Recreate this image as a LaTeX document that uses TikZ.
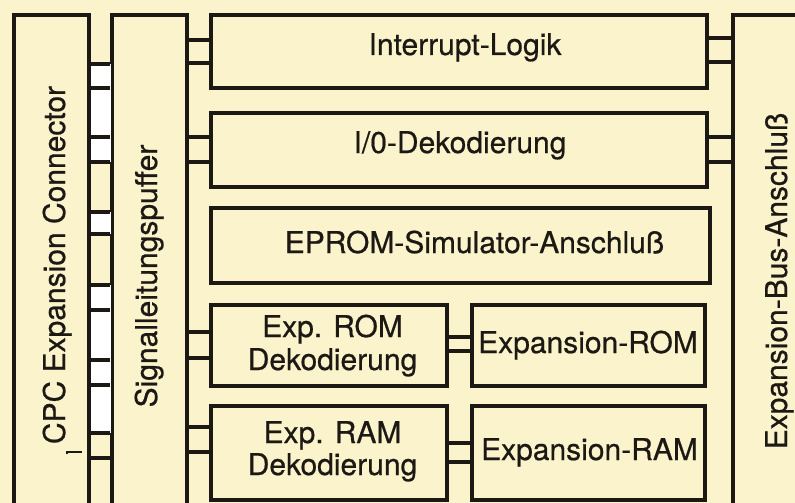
\documentclass[tikz,border=0pt]{standalone}
\usepackage{fontspec}
\setmainfont{TeX Gyre Heros}
\newfontfamily\lblfont[FakeBold=0.6]{TeX Gyre Heros}
\definecolor{paper}{RGB}{251,243,203}
\definecolor{ink}{RGB}{28,24,20}
\begin{document}
\begin{tikzpicture}[x=1pt,y=-1pt,
  box/.style={draw=ink, line width=3.1pt, inner sep=0pt},
  lbl/.style={font=\lblfont\fontsize{30}{33}\selectfont, text=ink, inner sep=0pt, anchor=base},
  wire/.style={draw=ink, line width=3.1pt},
  pin/.style={fill=white}]
\fill[paper] (0,0) rectangle (795,503);
\useasboundingbox (0,0) rectangle (795,503);
\clip (0,0) rectangle (795,503);
% open boxes
\node[box, minimum width=75, minimum height=525] (cpc) at (51.5,277.5) {};
\node[box, minimum width=75, minimum height=525] (sig) at (149.5,277.5) {};
\node[box, minimum width=107, minimum height=525] (bus) at (786.5,277.5) {};
% inner boxes
\node[box, minimum width=496, minimum height=73] (intr) at (459,51.5) {};
\node[box, minimum width=496, minimum height=74] (io) at (459,150) {};
\node[box, minimum width=499, minimum height=75] (eprom) at (460.5,245.5) {};
\node[box, minimum width=236, minimum height=81] (romdec) at (329,345.5) {};
\node[box, minimum width=236, minimum height=94] (ramdec) at (329,453) {};
\node[box, minimum width=233, minimum height=81] (rom) at (588.5,345.5) {};
\node[box, minimum width=233, minimum height=94] (ram) at (588.5,453) {};
% pin strip
\fill[pin] (90.5,64) rectangle (110.5,162);
\fill[pin] (90.5,212) rectangle (110.5,234);
\fill[pin] (90.5,285) rectangle (110.5,433);
\foreach \y in {64,88,137,162,212,234,285,310,360,385,433,458}
  \draw[wire] (cpc.east |- 0,\y) -- (sig.west |- 0,\y);
% connectors
\foreach \y in {40,63} \draw[wire] (sig.east |- 0,\y) -- (intr.west |- 0,\y);
\foreach \y in {137,162} \draw[wire] (sig.east |- 0,\y) -- (io.west |- 0,\y);
\foreach \y in {332,358} \draw[wire] (sig.east |- 0,\y) -- (romdec.west |- 0,\y);
\foreach \y in {427,452} \draw[wire] (sig.east |- 0,\y) -- (ramdec.west |- 0,\y);
\foreach \y in {337,351} \draw[wire] (romdec.east |- 0,\y) -- (rom.west |- 0,\y);
\foreach \y in {443,462} \draw[wire] (ramdec.east |- 0,\y) -- (ram.west |- 0,\y);
\foreach \y in {38,62} \draw[wire] (intr.east |- 0,\y) -- (bus.west |- 0,\y);
\foreach \y in {137,162} \draw[wire] (io.east |- 0,\y) -- (bus.west |- 0,\y);
% small tick
\coordinate (tA) at (67,454);
\coordinate (tB) at (67,452);
\coordinate (tC) at (82,452);
\draw[ink, line width=1.4pt] (tA) -- (tB) -- (tC);
% labels
\node[lbl] (tintr) at (465,55) {Interrupt-Logik};
\node[lbl] (tio) at (460,153) {I/0-Dekodierung};
\node[lbl] (teprom) at (474.5,253) {EPROM-Simulator-Anschluß};
\node[lbl] (tromd1) at (332.5,337) {Exp. ROM};
\node[lbl] (tromd2) at (332.5,370) {Dekodierung};
\node[lbl] (tramd1) at (332.5,443) {Exp. RAM};
\node[lbl] (tramd2) at (332.5,475) {Dekodierung};
\node[lbl] (trom) at (588,353) {Expansion-ROM};
\node[lbl] (tram) at (589.5,460) {Expansion-RAM};
\node[lbl, rotate=90] (tcpc) at (65,265) {CPC Expansion Connector};
\node[lbl, rotate=90] (tsig) at (157,276) {Signalleitungspuffer};
\node[lbl, rotate=90] (tbus) at (787,281) {Expansion-Bus-Anschluß};
\end{tikzpicture}
\end{document}
